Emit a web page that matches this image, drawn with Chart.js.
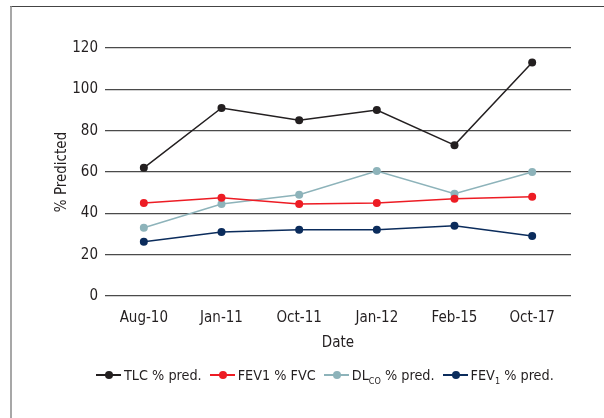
<!DOCTYPE html>
<html>
<head>
<meta charset="utf-8">
<script src="https://cdn.jsdelivr.net/npm/chart.js@4"></script>
<style>
  html, body { margin: 0; padding: 0; background: #fff; }
  #wrap { position: relative; width: 604px; height: 418px; }
  #c { position: absolute; left: 0; top: 0; }
  #legend { position: absolute; left: 96px; top: 365px; height: 20px; display: flex; align-items: center;
    font-family: 'DejaVu Sans Condensed', sans-serif; font-size: 14.3px; color: #231f20; white-space: nowrap; }
  .item { display: flex; align-items: center; margin-right: 8px; }
  .sw { position: relative; width: 25px; height: 10px; margin-right: 3px; }
  .sw .ln { position: absolute; left: 0; right: 0; top: 4px; height: 1.5px; }
  .sw .dt { position: absolute; left: 9px; top: 1px; width: 8px; height: 8px; border-radius: 50%; }
  sub { font-size: 9px; vertical-align: -4px; line-height: 0; }
</style>
</head>
<body>
<div id="wrap">
  <canvas id="c" width="604" height="418"></canvas>
  <div id="legend"></div>
</div>
<script>
const categories = ['Aug-10', 'Jan-11', 'Oct-11', 'Jan-12', 'Feb-15', 'Oct-17'];
const tlc = [62, 91, 85, 90, 73, 113];
const fev1fvc = [45, 47.5, 44.5, 45, 47, 48];
const dlco = [33, 44.5, 49, 60.5, 49.5, 60];
const fev1 = [26.3, 31, 32, 32, 34, 29];
const yTicks = [0, 20, 40, 60, 80, 100, 120];

const FONT = "'DejaVu Sans Condensed', sans-serif";
const TEXT = '#231f20';

const seriesDefs = [
  { label: 'TLC % pred.', html: 'TLC % pred.', data: tlc, color: '#231f20' },
  { label: 'FEV1 % FVC', html: 'FEV1 % FVC', data: fev1fvc, color: '#ed1c24' },
  { label: 'DLCO % pred.', html: 'DL<sub>CO</sub> % pred.', data: dlco, color: '#8db3ba' },
  { label: 'FEV1 % pred.', html: 'FEV<sub>1</sub> % pred.', data: fev1, color: '#0b2c5c' }
];

const frame = {
  id: 'frame',
  beforeDraw(chart) {
    const ctx = chart.ctx;
    ctx.save();
    ctx.strokeStyle = '#444';
    ctx.lineWidth = 1;
    ctx.beginPath(); ctx.moveTo(10, 6.5); ctx.lineTo(604, 6.5); ctx.stroke();
    ctx.strokeStyle = '#8a8a8a';
    ctx.lineWidth = 1.5;
    ctx.beginPath(); ctx.moveTo(11, 6); ctx.lineTo(11, 418); ctx.stroke();
    ctx.restore();
  }
};

new Chart(document.getElementById('c'), {
  type: 'line',
  data: {
    labels: categories,
    datasets: seriesDefs.map(s => ({
      label: s.label,
      data: s.data,
      borderColor: s.color,
      backgroundColor: s.color,
      pointBackgroundColor: s.color,
      pointBorderColor: s.color,
      pointRadius: 4,
      pointBorderWidth: 0,
      borderWidth: 1.5,
      tension: 0,
      fill: false
    }))
  },
  options: {
    responsive: false,
    animation: false,
    devicePixelRatio: 1,
    layout: { padding: { left: 0, top: 48, right: 33, bottom: 62 } },
    plugins: { legend: { display: false }, tooltip: { enabled: false } },
    scales: {
      x: {
        offset: true,
        grid: { display: false, drawTicks: false },
        border: { display: false },
        ticks: { color: TEXT, font: { family: FONT, size: 15 }, padding: 13, maxRotation: 0 },
        title: { display: true, text: 'Date', color: TEXT, font: { family: FONT, size: 15 }, padding: { top: 0, bottom: 4 } },
        afterFit(scale) { scale.height = 60; }
      },
      y: {
        min: 0, max: 120,
        afterBuildTicks(scale) { scale.ticks = yTicks.map(v => ({ value: v })); },
        grid: { color: '#4a4a4a', lineWidth: 1.3, drawTicks: false },
        border: { display: false },
        ticks: { color: TEXT, font: { family: FONT, size: 15 }, padding: 7 },
        title: { display: true, text: '% Predicted', color: TEXT, font: { family: FONT, size: 15 }, padding: { top: 53, bottom: 0 } },
        afterFit(scale) { scale.width = 105; }
      }
    }
  },
  plugins: [frame]
});

const legend = document.getElementById('legend');
seriesDefs.forEach(s => {
  const item = document.createElement('div');
  item.className = 'item';
  item.innerHTML = '<span class="sw"><span class="ln" style="background:' + s.color + '"></span><span class="dt" style="background:' + s.color + '"></span></span><span>' + s.html + '</span>';
  legend.appendChild(item);
});
</script>
</body>
</html>
